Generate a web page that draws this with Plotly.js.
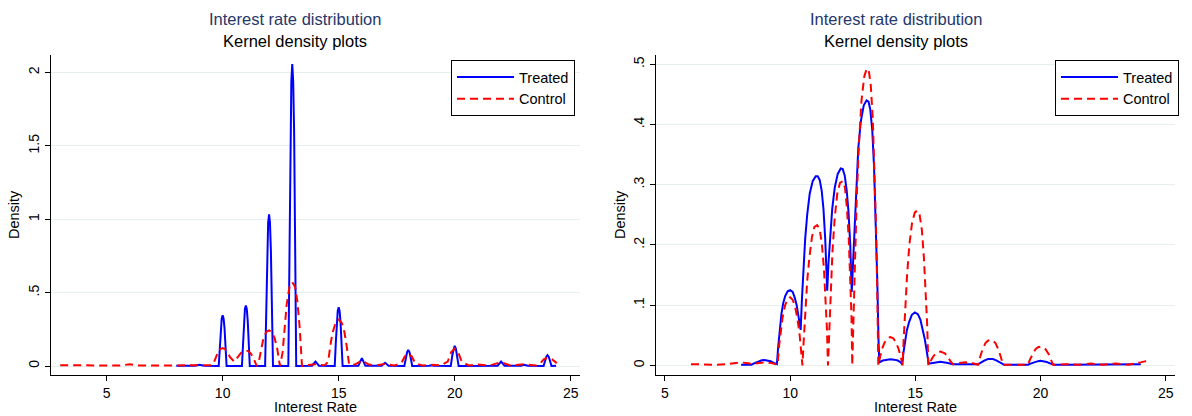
<!DOCTYPE html>
<html>
<head>
<meta charset="utf-8">
<script src="https://cdn.plot.ly/plotly-3.0.1.min.js"></script>
<style>html,body{margin:0;padding:0;background:#fff;}#chart{width:1192px;height:416px;}</style>
</head>
<body>
<div id="chart"></div>
<script>
// ---------- data ----------
// Left panel: kernel density, treated (narrow bandwidth)
const leftTreatedX = [8.0, 8.8, 9.0, 9.2,
  9.83, 9.88, 9.92, 9.96, 10.0, 10.04, 10.08, 10.12, 10.17,
  10.83, 10.88, 10.92, 10.96, 11.0, 11.04, 11.08, 11.12, 11.17,
  11.83, 11.88, 11.92, 11.96, 12.0, 12.04, 12.08, 12.12, 12.17,
  12.83, 12.88, 12.92, 12.96, 13.0, 13.04, 13.08, 13.12, 13.17,
  13.85, 14.0, 14.15,
  14.83, 14.88, 14.92, 14.96, 15.0, 15.04, 15.08, 15.12, 15.17,
  15.85, 16.0, 16.15, 16.85, 17.0, 17.15,
  17.83, 17.9, 17.95, 18.0, 18.05, 18.1, 18.17,
  18.9, 19.0, 19.1,
  19.83, 19.9, 19.95, 20.0, 20.05, 20.1, 20.17,
  21.85, 22.0, 22.15, 22.85, 23.0, 23.15,
  23.83, 23.9, 23.95, 24.0, 24.05, 24.1, 24.17, 24.37];
const leftTreatedY = [0.002, 0.002, 0.008, 0.002,
  0, 0.15, 0.26, 0.325, 0.345, 0.325, 0.26, 0.15, 0,
  0, 0.18, 0.31, 0.39, 0.413, 0.39, 0.31, 0.18, 0,
  0, 0.45, 0.78, 0.975, 1.034, 0.975, 0.78, 0.45, 0,
  0, 0.9, 1.6, 1.94, 2.057, 1.94, 1.6, 0.9, 0,
  0.002, 0.03, 0.002,
  0, 0.17, 0.3, 0.375, 0.40, 0.375, 0.3, 0.17, 0,
  0.002, 0.054, 0.002, 0.002, 0.022, 0.002,
  0, 0.06, 0.095, 0.11, 0.095, 0.06, 0,
  0.002, 0.006, 0.002,
  0, 0.075, 0.12, 0.138, 0.12, 0.075, 0,
  0.002, 0.03, 0.002, 0.002, 0.008, 0.002,
  0, 0.04, 0.064, 0.074, 0.064, 0.04, 0, 0.002];

// Left panel: control
const leftControlX = [3.0, 4.0, 5.0, 5.6, 6.0, 6.4, 7.0, 8.0, 8.5, 9.0, 9.5,
  9.6, 9.7, 9.8, 9.9, 10.0, 10.1, 10.2, 10.32, 10.5,
  10.65, 10.78, 10.9, 11.0, 11.1, 11.22, 11.35, 11.47,
  11.57, 11.66, 11.76, 11.88, 12.0, 12.12, 12.24, 12.35, 12.47,
  12.58, 12.66, 12.76, 12.88, 13.0, 13.12, 13.22, 13.32, 13.42,
  13.6, 14.0, 14.4,
  14.55, 14.64, 14.74, 14.87, 15.0, 15.13, 15.25, 15.35, 15.45,
  15.7, 16.0, 16.3, 16.6, 17.0, 17.4,
  17.7, 17.85, 18.0, 18.15, 18.3, 18.6, 19.0, 19.4,
  19.7, 19.85, 20.0, 20.15, 20.3, 20.6, 21.0, 21.5, 22.0, 22.4, 23.0, 23.5,
  23.7, 23.85, 24.0, 24.2, 24.4];
const leftControlY = [0.005, 0.003, 0.003, 0.004, 0.012, 0.004, 0.003, 0.004, 0.006, 0.004, 0.006,
  0.015, 0.06, 0.095, 0.116, 0.122, 0.116, 0.095, 0.06, 0.03,
  0.06, 0.088, 0.102, 0.106, 0.102, 0.085, 0.045, 0.0,
  0.04, 0.12, 0.19, 0.232, 0.243, 0.232, 0.19, 0.12, 0.0,
  0.09, 0.25, 0.42, 0.54, 0.572, 0.54, 0.44, 0.26, 0.0,
  0.005, 0.012, 0.005,
  0.03, 0.14, 0.23, 0.295, 0.316, 0.295, 0.23, 0.13, 0.01,
  0.01, 0.038, 0.01, 0.004, 0.015, 0.004,
  0.02, 0.065, 0.084, 0.065, 0.02, 0.004, 0.008, 0.004,
  0.03, 0.095, 0.118, 0.095, 0.03, 0.004, 0.01, 0.004, 0.027, 0.004, 0.012, 0.004,
  0.02, 0.048, 0.056, 0.045, 0.02];

// Right panel: treated
const rightTreatedX = [8.04, 8.45, 8.6, 8.75, 8.87, 8.97, 9.1, 9.22, 9.35, 9.47,
  9.52, 9.58, 9.65, 9.72, 9.8, 9.9, 10.0, 10.1, 10.18, 10.26, 10.34, 10.42,
  10.47, 10.53, 10.6, 10.68, 10.78, 10.9, 11.02, 11.1, 11.18, 11.26, 11.33, 11.4, 11.48,
  11.53, 11.6, 11.68, 11.78, 11.9, 12.02, 12.1, 12.18, 12.26, 12.33, 12.4, 12.46,
  12.5, 12.56, 12.63, 12.72, 12.82, 12.94, 13.05, 13.13, 13.2, 13.28, 13.35, 13.42, 13.48, 13.53, 13.56,
  13.7, 13.85, 14.0, 14.15, 14.3, 14.42, 14.48,
  14.52, 14.58, 14.66, 14.75, 14.86, 14.98, 15.1, 15.2, 15.3, 15.38, 15.45, 15.53,
  15.7, 16.0, 16.3, 16.5, 17.0, 17.5,
  17.6, 17.75, 17.9, 18.0, 18.1, 18.25, 18.4, 18.55,
  19.0, 19.5, 19.6, 19.75, 19.9, 20.0, 20.1, 20.25, 20.4, 20.55,
  21.0, 22.0, 23.0, 24.0];
const rightTreatedY = [0.001, 0.001, 0.004, 0.007, 0.0085, 0.009, 0.0085, 0.007, 0.004, 0.002,
  0.03, 0.06, 0.085, 0.103, 0.115, 0.123, 0.125, 0.122, 0.113, 0.1, 0.082, 0.059,
  0.11, 0.16, 0.21, 0.25, 0.285, 0.306, 0.314, 0.314, 0.308, 0.29, 0.26, 0.21, 0.124,
  0.17, 0.22, 0.26, 0.295, 0.318, 0.327, 0.326, 0.315, 0.29, 0.255, 0.2, 0.122,
  0.16, 0.23, 0.3, 0.36, 0.405, 0.432, 0.44, 0.438, 0.425, 0.39, 0.33, 0.24, 0.14, 0.04, 0.005,
  0.008, 0.0095, 0.01, 0.0095, 0.008, 0.005, 0.001,
  0.02, 0.04, 0.058, 0.072, 0.084, 0.088, 0.085, 0.076, 0.06, 0.043, 0.025, 0.003,
  0.004, 0.006, 0.004, 0.002, 0.002, 0.002,
  0.004, 0.008, 0.0105, 0.011, 0.0105, 0.008, 0.004, 0.001,
  0.001, 0.001, 0.003, 0.0055, 0.007, 0.0075, 0.007, 0.0055, 0.003, 0.001,
  0.001, 0.001, 0.001, 0.002];

// Right panel: control
const rightControlX = [6.04, 6.5, 7.0, 7.5, 7.75, 8.0, 8.25, 8.5, 8.75, 9.0, 9.25, 9.5,
  9.55, 9.62, 9.7, 9.8, 9.9, 10.0, 10.1, 10.2, 10.3, 10.38, 10.44, 10.49,
  10.54, 10.6, 10.68, 10.77, 10.87, 10.97, 11.08, 11.18, 11.27, 11.35, 11.42, 11.47, 11.51,
  11.55, 11.61, 11.69, 11.78, 11.88, 11.99, 12.1, 12.19, 12.27, 12.34, 12.4, 12.45, 12.48,
  12.52, 12.58, 12.66, 12.75, 12.85, 12.96, 13.06, 13.14, 13.22, 13.3, 13.37, 13.43, 13.48, 13.52,
  13.58, 13.66, 13.76, 13.88, 14.0, 14.12, 14.24, 14.34, 14.43, 14.49,
  14.53, 14.59, 14.67, 14.76, 14.87, 14.98, 15.08, 15.17, 15.26, 15.34, 15.41, 15.47, 15.52,
  15.6, 15.7, 15.82, 16.0, 16.18, 16.3, 16.4, 16.5, 16.75, 17.0, 17.25, 17.5,
  17.58, 17.68, 17.8, 17.9, 18.0, 18.1, 18.2, 18.32, 18.42, 18.5,
  19.0, 19.5, 19.58, 19.68, 19.8, 19.9, 20.0, 20.1, 20.2, 20.32, 20.42, 20.5,
  21.0, 21.5, 22.0, 22.5, 23.0, 23.5, 24.0, 24.2, 24.4];
const rightControlY = [0.002, 0.001, 0.001, 0.002, 0.004, 0.005, 0.004, 0.002, 0.004, 0.005, 0.004, 0.001,
  0.03, 0.055, 0.08, 0.1, 0.11, 0.113, 0.109, 0.097, 0.075, 0.05, 0.025, 0.0,
  0.04, 0.09, 0.14, 0.18, 0.213, 0.23, 0.233, 0.226, 0.2, 0.16, 0.11, 0.06, 0.0,
  0.05, 0.12, 0.19, 0.245, 0.285, 0.303, 0.306, 0.295, 0.26, 0.21, 0.15, 0.08, 0.0,
  0.07, 0.17, 0.28, 0.37, 0.44, 0.48, 0.493, 0.49, 0.465, 0.41, 0.33, 0.23, 0.12, 0.0,
  0.012, 0.026, 0.037, 0.045, 0.047, 0.045, 0.037, 0.026, 0.012, 0.0,
  0.04, 0.09, 0.15, 0.2, 0.237, 0.254, 0.257, 0.25, 0.225, 0.18, 0.13, 0.07, 0.0,
  0.007, 0.014, 0.02, 0.023, 0.02, 0.014, 0.007, 0.002, 0.004, 0.005, 0.004, 0.001,
  0.013, 0.026, 0.037, 0.041, 0.042, 0.041, 0.037, 0.026, 0.013, 0.001,
  0.001, 0.001, 0.01, 0.019, 0.027, 0.03, 0.031, 0.03, 0.027, 0.019, 0.01, 0.001,
  0.002, 0.001, 0.003, 0.001, 0.003, 0.001, 0.005, 0.007, 0.006];

const seriesNames = ["Treated", "Control"];
const xTickVals = [5, 10, 15, 20, 25];
const xTickText = ["5", "10", "15", "20", "25"];
const leftYTickVals = [0, 0.5, 1, 1.5, 2];
const leftYTickText = ["0", ".5", "1", "1.5", "2"];
const rightYTickVals = [0, 0.1, 0.2, 0.3, 0.4, 0.5];
const rightYTickText = ["0", ".1", ".2", ".3", ".4", ".5"];
const titleText = "Interest rate distribution";
const subtitleText = "Kernel density plots";
const xTitleText = "Interest Rate";
const yTitleText = "Density";

// ---------- layout ----------
const W = 1192, H = 416;
const px = x => x / W;
const py = y => (H - y) / H;
const FONT = "Liberation Sans, Arial, Helvetica, sans-serif";
const BLUE = "#0000ff", RED = "#ff0000";
const GRID = "#e6eef0";

const lineTreated = {color: BLUE, width: 2};
const lineControl = {color: RED, width: 2, dash: "8px,5px"};

const traces = [
  {x: leftTreatedX, y: leftTreatedY, name: seriesNames[0], type: "scatter", mode: "lines",
   line: lineTreated, xaxis: "x", yaxis: "y", legend: "legend"},
  {x: leftControlX, y: leftControlY, name: seriesNames[1], type: "scatter", mode: "lines",
   line: lineControl, xaxis: "x", yaxis: "y", legend: "legend"},
  {x: rightTreatedX, y: rightTreatedY, name: seriesNames[0], type: "scatter", mode: "lines",
   line: lineTreated, xaxis: "x2", yaxis: "y2", legend: "legend2"},
  {x: rightControlX, y: rightControlY, name: seriesNames[1], type: "scatter", mode: "lines",
   line: lineControl, xaxis: "x2", yaxis: "y2", legend: "legend2"}
];

const yDom = [py(375), py(55)];
function xAxis(dom, range, anchor) {
  return {domain: dom, range: range, anchor: anchor,
    tickvals: xTickVals, ticktext: xTickText,
    showline: true, linecolor: "#000", linewidth: 1,
    ticks: "outside", ticklen: 5, tickcolor: "#000", tickwidth: 1,
    showgrid: false, zeroline: false,
    tickfont: {family: FONT, size: 14, color: "#000"}};
}
function yAxis(range, anchor, vals, text) {
  return {domain: yDom, range: range, anchor: anchor,
    tickvals: vals, ticktext: text, tickangle: -90,
    showline: true, linecolor: "#000", linewidth: 1,
    ticks: "outside", ticklen: 5, tickcolor: "#000", tickwidth: 1,
    showgrid: true, gridcolor: GRID, gridwidth: 1, zeroline: false,
    tickfont: {family: FONT, size: 14, color: "#000"}};
}

function legendAt(rightPx) {
  return {x: px(rightPx), xanchor: "right", y: py(60), yanchor: "top",
    bgcolor: "#fff", bordercolor: "#000", borderwidth: 1, itemwidth: 57,
    font: {family: FONT, size: 14.5, color: "#000"}, tracegroupgap: 0};
}

const annots = [];
[295, 896].forEach(cx => {
  annots.push({text: titleText, x: px(cx), y: py(19), xref: "paper", yref: "paper",
    showarrow: false, xanchor: "center", yanchor: "middle",
    font: {family: FONT, size: 16.5, color: "#26376a"}});
  annots.push({text: subtitleText, x: px(cx), y: py(41), xref: "paper", yref: "paper",
    showarrow: false, xanchor: "center", yanchor: "middle",
    font: {family: FONT, size: 16.5, color: "#000"}});
});
annots.push({text: xTitleText, x: px(315), y: py(407), xref: "paper", yref: "paper",
  showarrow: false, xanchor: "center", yanchor: "middle", font: {family: FONT, size: 14.5, color: "#000"}});
annots.push({text: xTitleText, x: px(915), y: py(407), xref: "paper", yref: "paper",
  showarrow: false, xanchor: "center", yanchor: "middle", font: {family: FONT, size: 14.5, color: "#000"}});
annots.push({text: yTitleText, x: px(14), y: py(215), xref: "paper", yref: "paper", textangle: -90,
  showarrow: false, xanchor: "center", yanchor: "middle", font: {family: FONT, size: 14.5, color: "#000"}});
annots.push({text: yTitleText, x: px(620), y: py(215), xref: "paper", yref: "paper", textangle: -90,
  showarrow: false, xanchor: "center", yanchor: "middle", font: {family: FONT, size: 14.5, color: "#000"}});

const layout = {
  width: W, height: H,
  margin: {l: 0, r: 0, t: 0, b: 0},
  paper_bgcolor: "#fff", plot_bgcolor: "#fff",
  showlegend: true,
  xaxis: xAxis([px(50.7), px(580)], [2.59, 25.4], "y"),
  yaxis: yAxis([-0.061, 2.119], "x", leftYTickVals, leftYTickText),
  xaxis2: xAxis([px(655.7), px(1175)], [4.63, 25.37], "y2"),
  yaxis2: yAxis([-0.016, 0.5155], "x2", rightYTickVals, rightYTickText),
  legend: legendAt(575),
  legend2: legendAt(1179),
  annotations: annots
};

Plotly.newPlot("chart", traces, layout, {displayModeBar: false, staticPlot: true});
</script>
</body>
</html>
